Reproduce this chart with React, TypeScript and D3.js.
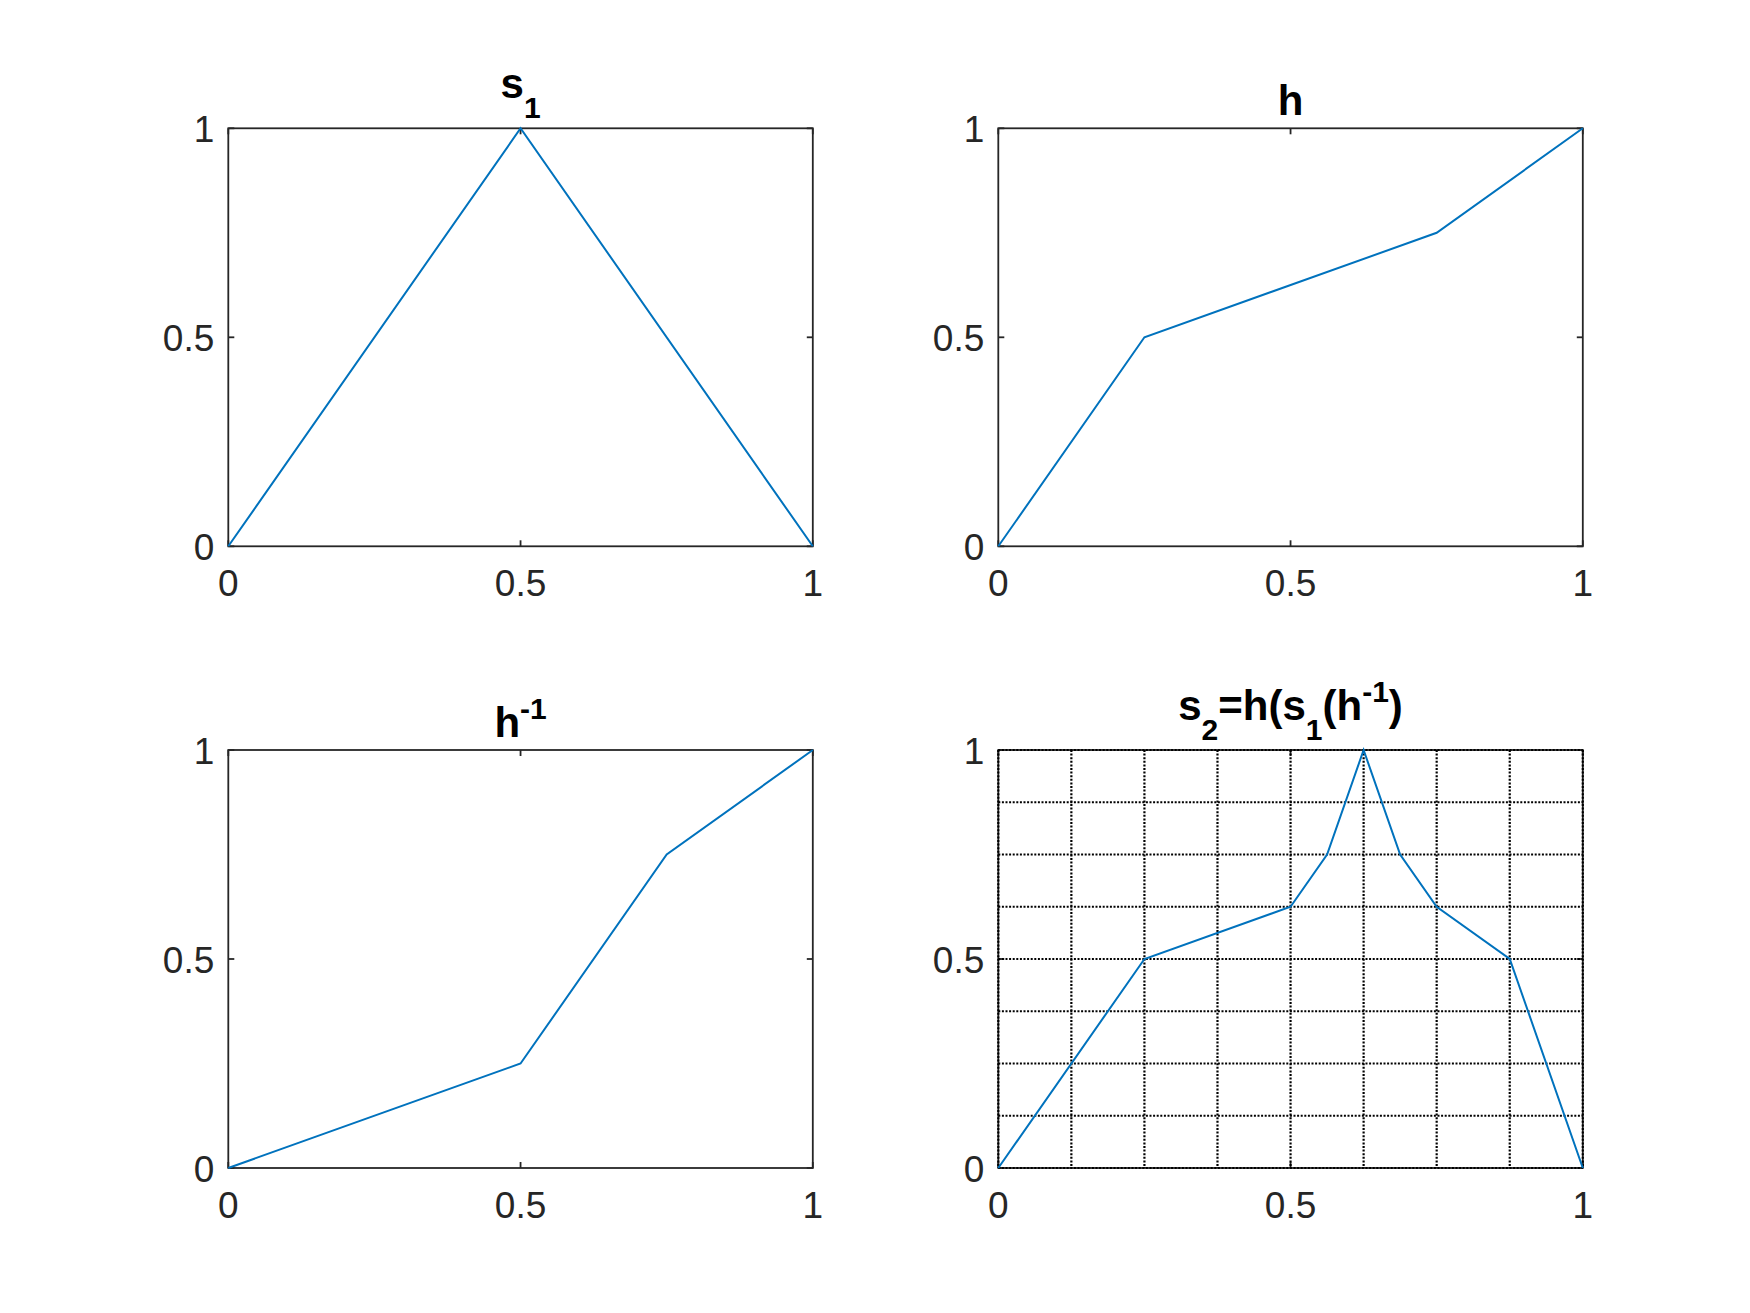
import React from 'react';
import * as d3 from 'd3';

// values
const s1X = [0, 0.5, 1];
const s1Y = [0, 1, 0];
const hX = [0, 0.25, 0.75, 1];
const hY = [0, 0.5, 0.75, 1];
const hInvX = [0, 0.5, 0.75, 1];
const hInvY = [0, 0.25, 0.75, 1];
const s2X = [0, 0.25, 0.5, 0.5625, 0.625, 0.6875, 0.75, 0.875, 1];
const s2Y = [0, 0.5, 0.625, 0.75, 1, 0.75, 0.625, 0.5, 0];
const tickValues = [0, 0.5, 1];
const tickLabels = ['0', '0.5', '1'];
const gridValues = [0, 0.125, 0.25, 0.375, 0.5, 0.625, 0.75, 0.875, 1];

const W = 1750;
const H = 1313;
const FONT = '"Liberation Sans", Arial, Helvetica, sans-serif';
const LINE = '#0072BD';
const AX = '#262626';

const cols = [228.3, 998.3];
const rows = [128.3, 750];
const pw = 584.5;
const ph = 418;

type Part = { t: string; sub?: boolean; sup?: boolean };

const panels: { title: Part[]; x: number[]; y: number[]; grid: boolean; col: number; row: number }[] = [
  { title: [{ t: 's' }, { t: '1', sub: true }], x: s1X, y: s1Y, grid: false, col: 0, row: 0 },
  { title: [{ t: 'h' }], x: hX, y: hY, grid: false, col: 1, row: 0 },
  { title: [{ t: 'h' }, { t: '-1', sup: true }], x: hInvX, y: hInvY, grid: false, col: 0, row: 1 },
  {
    title: [{ t: 's' }, { t: '2', sub: true }, { t: '=h(s' }, { t: '1', sub: true }, { t: '(h' }, { t: '-1', sup: true }, { t: ')' }],
    x: s2X, y: s2Y, grid: true, col: 1, row: 1,
  },
];

function Title({ parts, cx, top }: { parts: Part[]; cx: number; top: number }) {
  const hasSub = parts.some(p => p.sub);
  const base = hasSub ? top - 30 : top - 13;
  let shift = 0;
  return (
    <text x={cx} y={base} textAnchor="middle" fontFamily={FONT} fontWeight="bold" fontSize={42} fill="#000">
      {parts.map((p, i) => {
        const target = p.sub ? 20 : p.sup ? -18 : 0;
        const dy = target - shift;
        shift = target;
        return (
          <tspan key={i} dy={dy} fontSize={p.sub || p.sup ? 30 : 42}>{p.t}</tspan>
        );
      })}
    </text>
  );
}

function Panel({ p }: { p: typeof panels[number] }) {
  const left = cols[p.col];
  const top = rows[p.row];
  const x = d3.scaleLinear().domain([0, 1]).range([left, left + pw]);
  const y = d3.scaleLinear().domain([0, 1]).range([top + ph, top]);
  const pts: [number, number][] = p.x.map((v, i) => [v, p.y[i]]);
  const path = d3.line<[number, number]>().x(d => x(d[0])).y(d => y(d[1]))(pts) || '';
  const tl = 6;
  return (
    <g>
      <rect x={left} y={top} width={pw} height={ph} fill="#fff" stroke={AX} strokeWidth={1.8} />
      {tickValues.map(v => (
        <g key={v} stroke={AX} strokeWidth={1.8}>
          <line x1={x(v)} x2={x(v)} y1={top + ph} y2={top + ph - tl} />
          <line x1={x(v)} x2={x(v)} y1={top} y2={top + tl} />
          <line x1={left} x2={left + tl} y1={y(v)} y2={y(v)} />
          <line x1={left + pw} x2={left + pw - tl} y1={y(v)} y2={y(v)} />
        </g>
      ))}
      {p.grid && (
        <g stroke="#000" strokeWidth={2.2} strokeDasharray="2 1.6">
          {gridValues.map(v => (
            <line key={'gx' + v} x1={x(v)} x2={x(v)} y1={top} y2={top + ph} />
          ))}
          {gridValues.map(v => (
            <line key={'gy' + v} x1={left} x2={left + pw} y1={y(v)} y2={y(v)} />
          ))}
        </g>
      )}
      <path d={path} fill="none" stroke={LINE} strokeWidth={2} />
      {tickValues.map((v, i) => (
        <text key={'xl' + v} x={x(v)} y={top + ph + 50} textAnchor="middle" fontFamily={FONT} fontSize={37} fill={AX}>
          {tickLabels[i]}
        </text>
      ))}
      {tickValues.map((v, i) => (
        <text key={'yl' + v} x={left - 14} y={y(v) + 13.5} textAnchor="end" fontFamily={FONT} fontSize={37} fill={AX}>
          {tickLabels[i]}
        </text>
      ))}
      <Title parts={p.title} cx={left + pw / 2} top={top} />
    </g>
  );
}

export default function App() {
  return (
    <svg width={W} height={H} viewBox={`0 0 ${W} ${H}`} style={{ position: 'absolute', left: 0, top: 0, background: '#fff' }}>
      <rect width={W} height={H} fill="#fff" />
      {panels.map((p, i) => <Panel key={i} p={p} />)}
    </svg>
  );
}
